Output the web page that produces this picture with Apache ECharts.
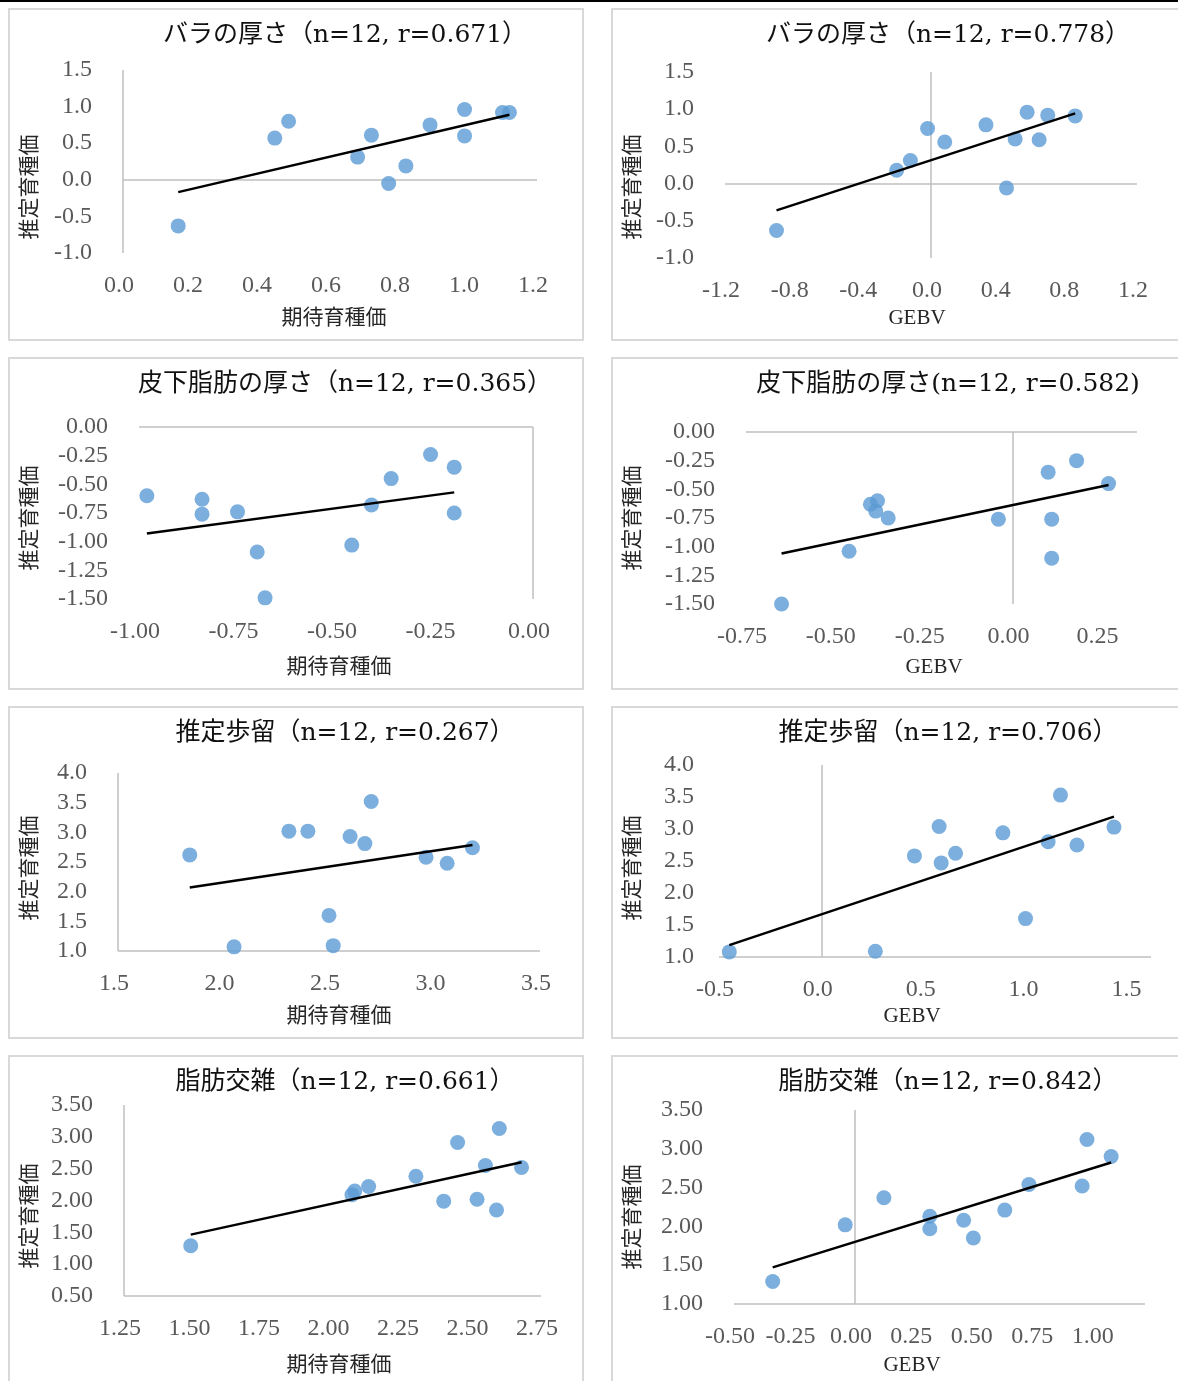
<!DOCTYPE html>
<html lang="ja">
<head>
<meta charset="UTF-8">
<title>期待育種価・GEBV と推定育種価</title>
<script src="https://cdn.jsdelivr.net/npm/echarts@6/dist/echarts.min.js"></script>
<style>
  html, body { margin: 0; padding: 0; background: #fff; }
  body { width: 1178px; height: 1381px; position: relative; overflow: hidden; }
  .topline { position: absolute; left: 0; top: 0; width: 1178px; height: 2px; background: #000; }
  .frame { position: absolute; box-sizing: border-box; border: 2px solid #d9d9d9; background: #fff; }
  .chart { position: absolute; }
</style>
</head>
<body>
<div class="topline"></div>
<script>
// ---- データ（x: 期待育種価 または GEBV, y: 推定育種価）----
const baraEbvX = [0.16, 0.44, 0.48, 0.68, 0.72, 0.77, 0.82, 0.89, 0.99, 0.99, 1.10, 1.12];
const baraEbvY = [-0.63, 0.57, 0.80, 0.31, 0.61, -0.05, 0.19, 0.75, 0.96, 0.60, 0.92, 0.92];

const baraGebvX = [-0.90, -0.20, -0.12, -0.02, 0.08, 0.32, 0.44, 0.49, 0.56, 0.63, 0.68, 0.84];
const baraGebvY = [-0.63, 0.18, 0.31, 0.74, 0.56, 0.79, -0.06, 0.60, 0.96, 0.59, 0.92, 0.91];

const hikaEbvX = [-0.98, -0.84, -0.84, -0.75, -0.70, -0.68, -0.46, -0.41, -0.36, -0.26, -0.20, -0.20];
const hikaEbvY = [-0.60, -0.63, -0.76, -0.74, -1.09, -1.49, -1.03, -0.68, -0.45, -0.24, -0.35, -0.75];

const hikaGebvX = [-0.65, -0.46, -0.40, -0.38, -0.385, -0.35, -0.04, 0.10, 0.18, 0.27, 0.11, 0.11];
const hikaGebvY = [-1.50, -1.04, -0.63, -0.60, -0.69, -0.75, -0.76, -0.35, -0.25, -0.45, -0.76, -1.10];

const budomariEbvX = [1.84, 2.05, 2.31, 2.40, 2.50, 2.52, 2.60, 2.67, 2.70, 2.96, 3.06, 3.18];
const budomariEbvY = [2.62, 1.07, 3.02, 3.02, 1.60, 1.09, 2.93, 2.81, 3.52, 2.58, 2.48, 2.74];

const budomariGebvX = [-0.45, 0.26, 0.45, 0.57, 0.58, 0.65, 0.88, 0.99, 1.10, 1.16, 1.24, 1.42];
const budomariGebvY = [1.08, 1.09, 2.58, 3.04, 2.47, 2.62, 2.94, 1.60, 2.80, 3.53, 2.75, 3.03];

const bmsEbvX = [1.49, 2.07, 2.08, 2.13, 2.30, 2.40, 2.45, 2.52, 2.55, 2.59, 2.60, 2.68];
const bmsEbvY = [1.29, 2.09, 2.15, 2.22, 2.38, 1.99, 2.91, 2.02, 2.55, 1.85, 3.13, 2.52];

const bmsGebvX = [-0.34, -0.04, 0.12, 0.31, 0.31, 0.45, 0.49, 0.62, 0.72, 0.94, 0.96, 1.06];
const bmsGebvY = [1.29, 2.02, 2.37, 2.13, 1.97, 2.08, 1.85, 2.21, 2.54, 2.52, 3.12, 2.90];

const titles = [
  'バラの厚さ（n=12, r=0.671）',
  'バラの厚さ（n=12, r=0.778）',
  '皮下脂肪の厚さ（n=12, r=0.365）',
  '皮下脂肪の厚さ(n=12, r=0.582)',
  '推定歩留（n=12, r=0.267）',
  '推定歩留（n=12, r=0.706）',
  '脂肪交雑（n=12, r=0.661）',
  '脂肪交雑（n=12, r=0.842）'
];
const xNames = ['期待育種価', 'GEBV', '期待育種価', 'GEBV', '期待育種価', 'GEBV', '期待育種価', 'GEBV'];
const yName = '推定育種価';

// 軸の範囲: [min, max, interval, 小数桁]
const xRanges = [[0, 1.2, 0.2, 1], [-1.2, 1.2, 0.4, 1], [-1, 0, 0.25, 2], [-0.75, 0.35, 0.25, 2],
                 [1.5, 3.5, 0.5, 1], [-0.5, 1.6, 0.5, 1], [1.25, 2.75, 0.25, 2], [-0.5, 1.2, 0.25, 2]];
const yRanges = [[-1, 1.5, 0.5, 1], [-1, 1.5, 0.5, 1], [-1.5, 0, 0.25, 2], [-1.5, 0, 0.25, 2],
                 [1, 4, 0.5, 1], [1, 4, 0.5, 1], [0.5, 3.5, 0.5, 2], [1, 3.5, 0.5, 2]];

const seriesX = [baraEbvX, baraGebvX, hikaEbvX, hikaGebvX, budomariEbvX, budomariGebvX, bmsEbvX, bmsGebvX];
const seriesY = [baraEbvY, baraGebvY, hikaEbvY, hikaGebvY, budomariEbvY, budomariGebvY, bmsEbvY, bmsGebvY];

// ---- レイアウト（パネル内座標）----
const panels = [
  { left: 8,   top: 8,    grid: [115, 62, 414, 183], xNameX: 326, yNameY: 179, yMargin: 31 },
  { left: 611, top: 8,    grid: [114, 64, 412, 186], xNameX: 306, yNameY: 179, yMargin: 31 },
  { left: 8,   top: 357,  grid: [131, 70, 394, 172], xNameX: 331, yNameY: 161, yMargin: 31 },
  { left: 611, top: 357,  grid: [135, 75, 391, 172], xNameX: 323, yNameY: 161, yMargin: 31, hideXMax: true },
  { left: 8,   top: 706,  grid: [110, 67, 422, 178], xNameX: 331, yNameY: 162, yMargin: 31 },
  { left: 611, top: 706,  grid: [108, 59, 432, 192], xNameX: 301, yNameY: 162, yMargin: 25, hideXMax: true },
  { left: 8,   top: 1055, grid: [116, 50, 417, 191], xNameX: 331, yNameY: 161, yMargin: 31 },
  { left: 611, top: 1055, grid: [123, 55, 411, 194], xNameX: 301, yNameY: 162, yMargin: 31, hideXMax: true }
];
const PANEL_W = 576, PANEL_H = 333;

const labelFont = 'Liberation Serif';
const titleFont = '25px "DejaVu Serif", "Noto Sans CJK JP"';
const nameFont = '21px "Liberation Serif", "Noto Sans CJK JP"';

// 最小二乗法の近似直線（データの x 範囲）
function fitLine(xs, ys) {
  const n = xs.length;
  const mx = xs.reduce((a, b) => a + b, 0) / n;
  const my = ys.reduce((a, b) => a + b, 0) / n;
  let sxy = 0, sxx = 0;
  for (let i = 0; i < n; i++) {
    sxy += (xs[i] - mx) * (ys[i] - my);
    sxx += (xs[i] - mx) * (xs[i] - mx);
  }
  const b = sxy / sxx, a = my - b * mx;
  const x0 = Math.min(...xs), x1 = Math.max(...xs);
  return [[x0, a + b * x0], [x1, a + b * x1]];
}

const fmt = d => v => (Math.abs(v) < 1e-9 ? 0 : v).toFixed(d);
const clamp = (v, lo, hi) => Math.min(hi, Math.max(lo, v));

function textStyle(text, font, fill) {
  return { text, font, fill, align: 'center', verticalAlign: 'middle', textAlign: 'center', textVerticalAlign: 'middle' };
}

function buildOption(i) {
  const p = panels[i], xr = xRanges[i], yr = yRanges[i];
  const xs = seriesX[i], ys = seriesY[i];
  const xAxisLabel = {
    margin: 21, color: '#595959', fontFamily: labelFont, fontSize: 24,
    padding: [0, 8, 0, 0], formatter: fmt(xr[3])
  };
  if (p.hideXMax) xAxisLabel.showMaxLabel = false;
  return {
    animation: false,
    grid: { left: p.grid[0], top: p.grid[1], width: p.grid[2], height: p.grid[3], containLabel: false, outerBoundsMode: 'none' },
    xAxis: {
      type: 'value', min: xr[0], max: xr[1], interval: xr[2],
      axisLine: { show: false, onZero: false }, axisTick: { show: false }, splitLine: { show: false },
      axisLabel: xAxisLabel
    },
    yAxis: {
      type: 'value', min: yr[0], max: yr[1], interval: yr[2],
      axisLine: { show: false, onZero: false }, axisTick: { show: false }, splitLine: { show: false },
      axisLabel: { margin: p.yMargin, color: '#595959', fontFamily: labelFont, fontSize: 24, formatter: fmt(yr[3]) }
    },
    graphic: [
      { type: 'text', x: 337, y: 27, silent: true, style: textStyle(titles[i], titleFont, '#111') },
      { type: 'text', x: p.xNameX, y: 310, silent: true, style: textStyle(xNames[i], nameFont, '#262626') },
      { type: 'text', x: 22, y: p.yNameY, rotation: Math.PI / 2, silent: true, style: textStyle(yName, nameFont, '#262626') }
    ],
    series: [
      {
        type: 'scatter',
        data: xs.map((x, k) => [x, ys[k]]),
        symbolSize: 15,
        itemStyle: { color: '#5b9bd5' },
        clip: false,
        z: 2,
        markLine: {
          silent: true,
          z: 1,
          symbol: ['none', 'none'],
          label: { show: false },
          lineStyle: { color: '#bfbfbf', width: 1.5, type: 'solid' },
          emphasis: { disabled: true },
          data: [{ xAxis: clamp(0, xr[0], xr[1]) }, { yAxis: clamp(0, yr[0], yr[1]) }]
        }
      },
      {
        type: 'line',
        data: fitLine(xs, ys),
        symbol: 'none',
        lineStyle: { color: '#000', width: 2.5 },
        z: 3,
        silent: true
      }
    ]
  };
}

panels.forEach((p, i) => {
  const frame = document.createElement('div');
  frame.className = 'frame';
  Object.assign(frame.style, { left: p.left + 'px', top: p.top + 'px', width: PANEL_W + 'px', height: PANEL_H + 'px' });
  document.body.appendChild(frame);

  const el = document.createElement('div');
  el.className = 'chart';
  Object.assign(el.style, { left: p.left + 'px', top: p.top + 'px', width: PANEL_W + 'px', height: PANEL_H + 'px' });
  document.body.appendChild(el);

  const chart = echarts.init(el, null, { renderer: 'canvas' });
  chart.setOption(buildOption(i));
});
</script>
</body>
</html>
